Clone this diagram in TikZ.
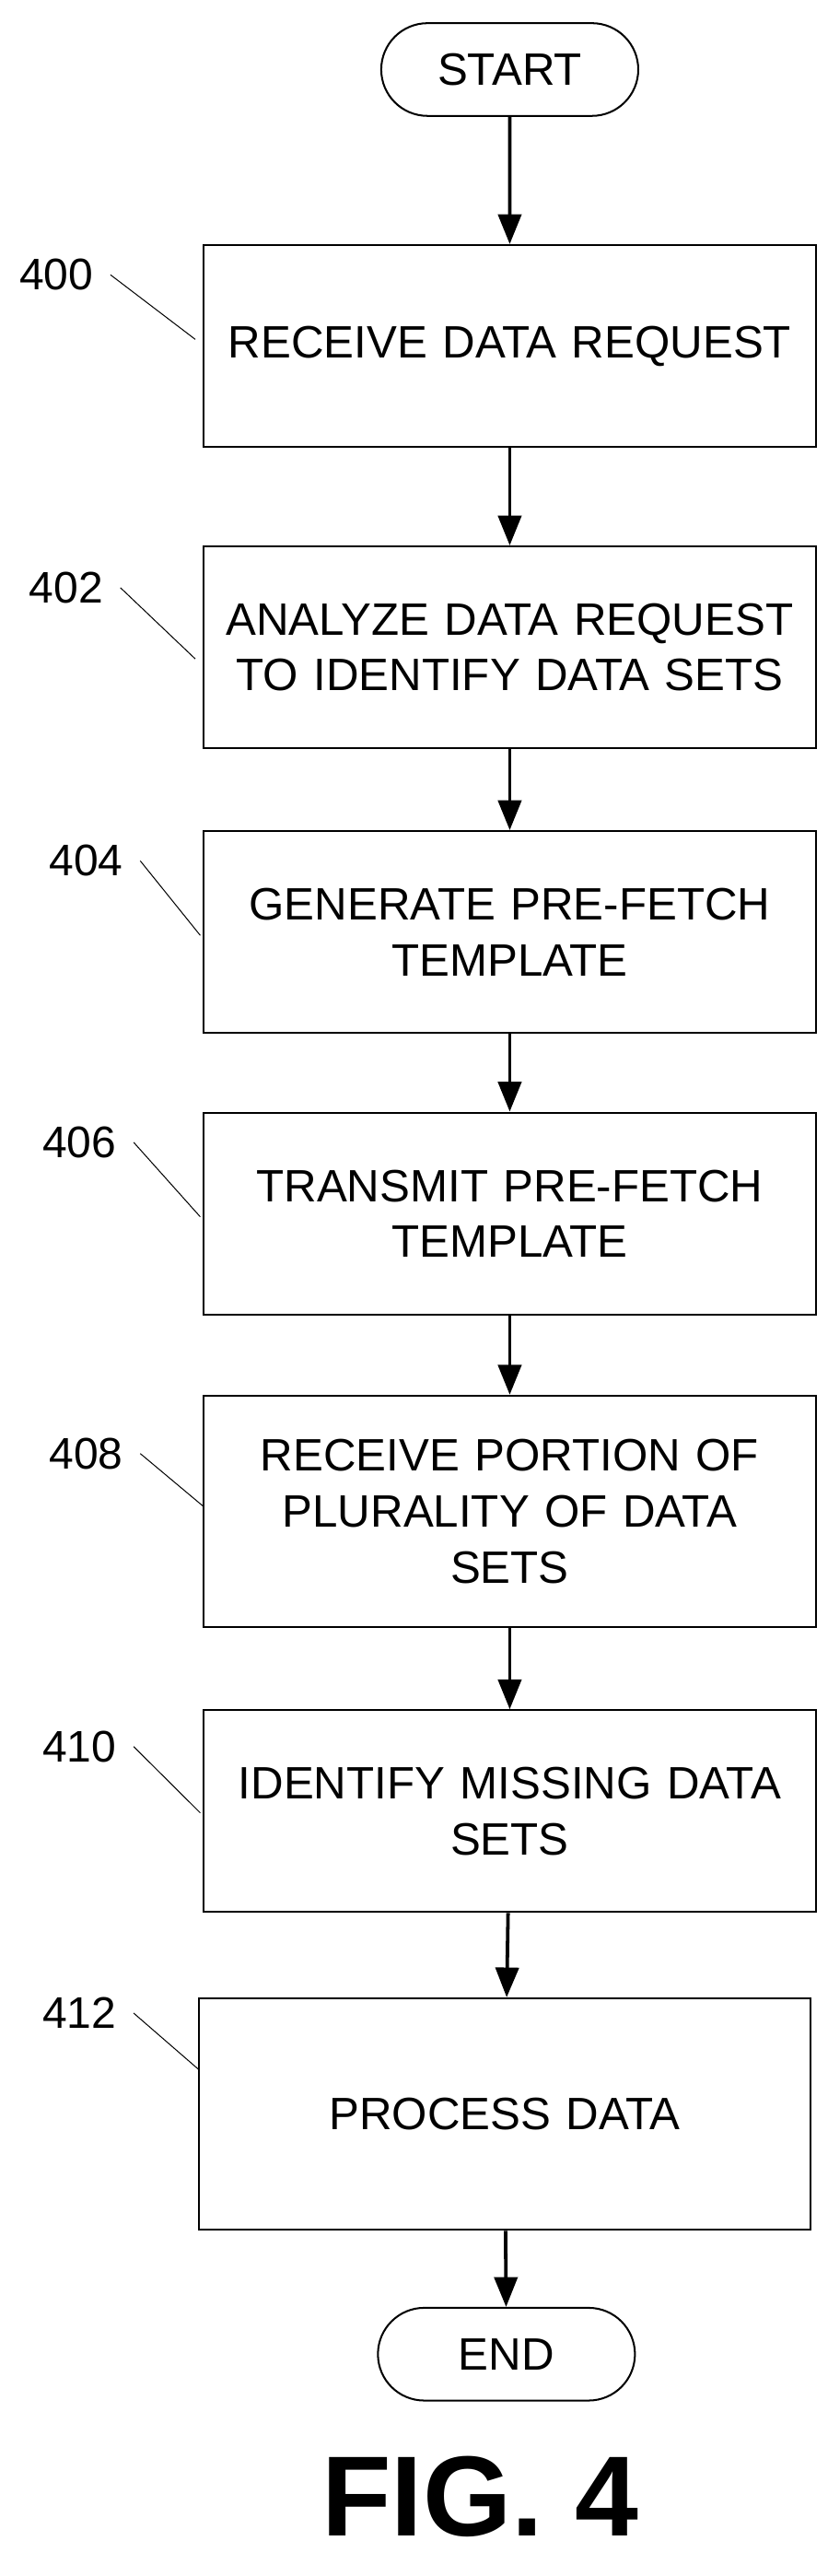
\documentclass[tikz,border=0pt]{standalone}
\usepackage{fontspec}
\setmainfont{Liberation Sans}
\usetikzlibrary{arrows.meta,shapes.misc}

\tikzset{
  stepbox/.style={draw,line width=1.6pt,minimum width=18.5cm,minimum height=6.1cm,
    text width=18cm,align=center,font=\fontsize{39}{48}\selectfont},
  term/.style={draw,line width=1.6pt,rounded rectangle,minimum width=8cm,
    minimum height=2.8cm,font=\fontsize{39}{44}\selectfont},
  flow/.style={line width=3pt,-{Triangle[length=0.9cm,width=0.7cm]}},
  ref/.style={font=\fontsize{38}{42}\selectfont},
  lead/.style={line width=0.8pt}
}

\begin{document}
\begin{tikzpicture}[x=0.05cm,y=-0.05cm]
        \useasboundingbox (0,0) rectangle (500,1556);
        % terminals
        \node[term] (start) at (308,42) {START};
        \node[term] (end) at (306,1422) {END};
        % steps
        \node[stepbox] (s400) at (308,209) {RECEIVE DATA REQUEST};
        \node[stepbox] (s402) at (308,391) {ANALYZE DATA REQUEST\\TO IDENTIFY DATA SETS};
        \node[stepbox] (s404) at (308,563) {GENERATE PRE-FETCH\\TEMPLATE};
        \node[stepbox] (s406) at (308,733) {TRANSMIT PRE-FETCH\\TEMPLATE};
        \node[stepbox,minimum height=7cm] (s408) at (308,913) {RECEIVE PORTION OF\\PLURALITY OF DATA\\SETS};
        \node[stepbox] (s410) at (308,1094) {IDENTIFY MISSING DATA\\SETS};
        \node[stepbox,minimum height=7cm] (s412) at (305,1277) {PROCESS DATA};
        % flow arrows
        \draw[flow] (start) -- (s400);
        \draw[flow] (s400) -- (s402);
        \draw[flow] (s402) -- (s404);
        \draw[flow] (s404) -- (s406);
        \draw[flow] (s406) -- (s408);
        \draw[flow] (s408) -- (s410);
        \draw[flow] (s410) -- (s412);
        \draw[flow] (s412) -- (end);
        % reference numerals
        \node[ref] (n400) at (34,166) {400};
        \node[ref] (n402) at (40,355) {402};
        \node[ref] (n404) at (52,520) {404};
        \node[ref] (n406) at (48,690) {406};
        \node[ref] (n408) at (52,878) {408};
        \node[ref] (n410) at (48,1055) {410};
        \node[ref] (n412) at (48,1216) {412};
        \coordinate (c400) at (118,205);
        \coordinate (c402) at (118,398);
        \coordinate (c404) at (121,565);
        \coordinate (c406) at (121,735);
        \coordinate (c408) at (123,910);
        \coordinate (c410) at (121,1095);
        \coordinate (c412) at (120,1250);
        \draw[lead] ([xshift=0.4cm]n400.east) -- (c400);
        \draw[lead] ([xshift=0.4cm]n402.east) -- (c402);
        \draw[lead] ([xshift=0.4cm]n404.east) -- (c404);
        \draw[lead] ([xshift=0.4cm]n406.east) -- (c406);
        \draw[lead] ([xshift=0.4cm]n408.east) -- (c408);
        \draw[lead] ([xshift=0.4cm]n410.east) -- (c410);
        \draw[lead] ([xshift=0.4cm]n412.east) -- (c412);
        % caption
        \node[font=\bfseries\fontsize{98}{104}\selectfont] (fig) at (290,1508) {FIG. 4};
\end{tikzpicture}
\end{document}
